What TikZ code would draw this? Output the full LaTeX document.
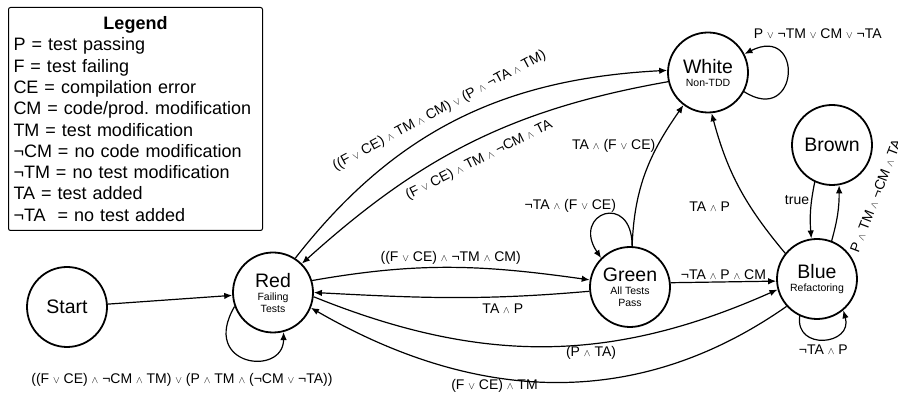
\documentclass[tikz,border=0pt]{standalone}
\usepackage{fontspec}
\setmainfont{Liberation Sans}
\usetikzlibrary{arrows.meta}
\newcommand{\andop}{\ensuremath{\scriptstyle\wedge}}
\newcommand{\orop}{\ensuremath{\scriptstyle\vee}}
\newcommand{\bigname}{\fontsize{19.5}{21}\selectfont}
\tikzset{
  state/.style={circle, draw, line width=1.8pt, minimum size=80pt, inner sep=0pt, align=center, font=\fontsize{10.5}{12}\selectfont},
  edge/.style={line width=1.2pt, -{Latex[length=8pt,width=6.5pt]}},
  lbl/.style={font=\fontsize{14}{16}\selectfont, inner sep=2pt},
  legendbox/.style={draw, rounded corners=2pt, line width=1pt, text width=244pt, inner xsep=5pt, minimum height=223pt, align=left, font=\fontsize{18}{21.3}\selectfont}
}
\begin{document}
\begin{tikzpicture}[x=1pt,y=1pt]
	\useasboundingbox (0,0) rectangle (898,401);
	\node[legendbox, anchor=north west] (legend) at (8,394) {\frenchspacing\centerline{\bfseries Legend}
		P = test passing\\
		F = test failing\\
		CE = compilation error\\
		CM = code/prod. modification\\
		TM = test modification\\
		¬CM = no code modification\\
		¬TM = no test modification\\
		TA = test added\\
		¬TA~ = no test added};
	\node[state] (start) at (67,94) {\bigname Start};
	\node[state] (red) at (273,108.5) {{\bigname Red}\\[1pt]Failing\\Tests};
	\node[state] (green) at (630,114) {{\bigname Green}\\[1pt]All Tests\\Pass};
	\node[state] (blue) at (817,122) {{\bigname Blue}\\[1pt]Refactoring};
	\node[state] (white) at (708,328.5) {{\bigname White}\\[1pt]Non-TDD};
	\node[state] (brown) at (832,256) {\bigname Brown};
	\draw[edge] (start) -- (red);
	\draw[edge] (red.200) .. controls +(-35,-60) and +(0,-45) .. (red.285)
		node[lbl, midway, below=12pt, xshift=-64pt] {((F \orop{} CE) \andop{} ¬CM \andop{} TM) \orop{} (P \andop{} TM \andop{} (¬CM \orop{} ¬TA))};
	\draw[edge] (red.57) to[out=52, in=183] node[lbl, sloped, above=7pt, pos=0.47] {((F \orop{} CE) \andop{} TM \andop{} CM) \orop{} (P \andop{} ¬TA \andop{} TM)} (white.177);
	\draw[edge] (white.193) to[out=190, in=42] node[lbl, sloped, below=10pt, pos=0.5] {(F \orop{} CE) \andop{} TM \andop{} ¬CM \andop{} TA} (red.45);
	\draw[edge] (red.17) to[out=10, in=172] node[lbl, above] {((F \orop{} CE) \andop{} ¬TM \andop{} CM)} (green.170);
	\draw[edge] (green.186) to[out=185, in=-3] node[lbl, below=5pt, pos=0.3] {TA \andop{} P} (red.0);
	\draw[edge] (red.-6) to[out=-22, in=204] node[lbl, below, pos=0.6] {(P \andop{} TA)} (blue.195);
	\draw[edge] (blue.222) to[out=215, in=-30] node[lbl, below, pos=0.62] {(F \orop{} CE) \andop{} TM} (red.-22);
	\draw[edge] (green.87) .. controls +(0,55) and +(-30,45) .. (green.135)
		node[lbl, midway, above, xshift=-35pt] {¬TA \andop{} (F \orop{} CE)};
	\draw[edge] (green.87) to[out=88, in=235] node[lbl, left, pos=0.7] {TA \andop{} (F \orop{} CE)} (white.233);
	\draw[edge] (blue.141) to[out=130, in=-75] node[lbl, left=18pt, pos=0.35] {TA \andop{} P} (white.-85);
	\draw[edge] (green.6) -- node[lbl, above] {¬TA \andop{} P \andop{} CM} (blue.183);
	\draw[edge] (white.-28) .. controls +(55,-35) and +(60,30) .. (white.27)
		node[lbl, pos=0.8, xshift=45pt, yshift=16pt] {P \orop{} ¬TM \orop{} CM \orop{} ¬TA};
	\draw[edge] (brown.245) to[bend right=8] node[lbl, left, pos=0.3] {true} (blue.98);
	\draw[edge] (blue.69) to[bend right=8] node[lbl, xshift=38pt, yshift=17pt, rotate=69] {P \andop{} TM \andop{} ¬CM \andop{} TA} (brown.-80);
	\draw[edge] (blue.245) .. controls +(-5,-35) and +(10,-35) .. (blue.-50)
		node[lbl, midway, below=3pt] {¬TA \andop{} P};
\end{tikzpicture}
\end{document}
